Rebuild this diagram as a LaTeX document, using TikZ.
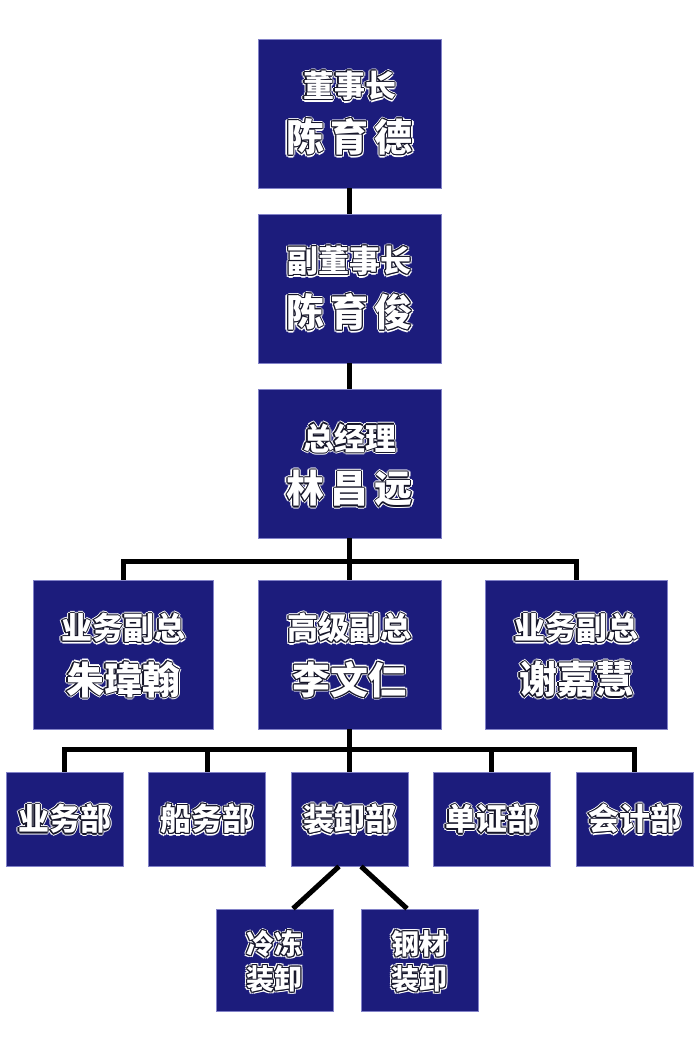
\documentclass[tikz,border=0pt]{standalone}
\usepackage{fontspec}
\setmainfont{Noto Sans CJK SC}
\definecolor{boxnavy}{RGB}{28,28,124}
\definecolor{boxedge}{RGB}{130,130,200}
\definecolor{rim}{RGB}{20,20,40}
\newcommand\shf[3]{\rlap{\hspace*{#1}\raisebox{#2}{#3}}}
\newcommand\outl[1]{%
  \textcolor{white}{\shf{2.3pt}{0pt}{#1}\shf{-2.3pt}{0pt}{#1}\shf{0pt}{2.3pt}{#1}\shf{0pt}{-2.3pt}{#1}\shf{1.6pt}{1.6pt}{#1}\shf{-1.6pt}{1.6pt}{#1}\shf{1.6pt}{-1.6pt}{#1}\shf{-1.6pt}{-1.6pt}{#1}}%
  \textcolor{rim}{\shf{1.1pt}{0pt}{#1}\shf{-1.1pt}{0pt}{#1}\shf{0pt}{1.1pt}{#1}\shf{0pt}{-1.1pt}{#1}\shf{0.8pt}{0.8pt}{#1}\shf{-0.8pt}{0.8pt}{#1}\shf{0.8pt}{-0.8pt}{#1}\shf{-0.8pt}{-0.8pt}{#1}}%
  \textcolor{white}{#1}}
\tikzset{
  orgbox/.style={draw=boxedge, line width=0.8pt, fill=boxnavy, inner sep=0pt, minimum width=#1},
  bigbox/.style={orgbox=183pt, minimum height=149pt},
  deptbox/.style={orgbox=117pt, minimum height=94pt},
  subbox/.style={orgbox=117pt, minimum height=102pt},
  ttl/.style={inner sep=0pt, font=\bfseries\fontsize{31}{31}\selectfont},
  nam/.style={inner sep=0pt, font=\bfseries\fontsize{38}{38}\selectfont},
  dep/.style={inner sep=0pt, font=\bfseries\fontsize{31}{31}\selectfont},
  sub/.style={inner sep=0pt, font=\bfseries\fontsize{28}{28}\selectfont},
  conn/.style={line width=5pt, black},
}
\begin{document}
\begin{tikzpicture}[x=1pt,y=-1pt]
\useasboundingbox (0,0) rectangle (700,1050);
% top chain
\node[bigbox] (b1) at (349.5,113.5) {};
\node[bigbox] (b2) at (349.5,288.5) {};
\node[bigbox] (b3) at (349.5,463.5) {};
% second row
\node[orgbox=180pt, minimum height=149pt] (l2) at (123,654.5) {};
\node[bigbox] (m2) at (349.5,654.5) {};
\node[orgbox=182pt, minimum height=149pt] (r2) at (576,654.5) {};
% departments
\node[deptbox] (d1) at (64.5,819) {};
\node[deptbox] (d2) at (207,819) {};
\node[deptbox] (d3) at (349.5,819) {};
\node[deptbox] (d4) at (491.5,819) {};
\node[deptbox] (d5) at (634.5,819) {};
% sub units
\node[subbox] (e1) at (274.5,960) {};
\node[subbox] (e2) at (419.5,960) {};
% texts
\node[ttl] (b1t) at ([yshift=27.5pt]b1.center) {\outl{董事长}};
\node[nam] (b1n) at ([yshift=-23.5pt]b1.center) {\outl{陈\,育\,德}};
\node[ttl] (b2t) at ([yshift=27.5pt]b2.center) {\outl{副董事长}};
\node[nam] (b2n) at ([yshift=-23.5pt]b2.center) {\outl{陈\,育\,俊}};
\node[ttl] (b3t) at ([yshift=25.5pt]b3.center) {\outl{总经理}};
\node[nam] (b3n) at ([yshift=-25pt]b3.center) {\outl{林\,昌\,远}};
\node[ttl] (l2t) at ([yshift=26.5pt]l2.center) {\outl{业务副总}};
\node[nam] (l2n) at ([yshift=-25pt]l2.center) {\outl{朱瑋翰}};
\node[ttl] (m2t) at ([yshift=26.5pt]m2.center) {\outl{高级副总}};
\node[nam] (m2n) at ([yshift=-25pt]m2.center) {\outl{李文仁}};
\node[ttl] (r2t) at ([yshift=26.5pt]r2.center) {\outl{业务副总}};
\node[nam] (r2n) at ([yshift=-25pt]r2.center) {\outl{谢嘉慧}};
\node[dep] (d1t) at (d1.center) {\outl{业务部}};
\node[dep] (d2t) at (d2.center) {\outl{船务部}};
\node[dep] (d3t) at (d3.center) {\outl{装卸部}};
\node[dep] (d4t) at (d4.center) {\outl{单证部}};
\node[dep] (d5t) at (d5.center) {\outl{会计部}};
\node[sub] (e1a) at ([yshift=16pt]e1.center) {\outl{冷冻}};
\node[sub] (e1b) at ([yshift=-19pt]e1.center) {\outl{装卸}};
\node[sub] (e2a) at ([yshift=16pt]e2.center) {\outl{钢材}};
\node[sub] (e2b) at ([yshift=-19pt]e2.center) {\outl{装卸}};
% connectors
\coordinate (j2) at (349.5,561);
\coordinate (j3) at (349.5,749);
\draw[conn] (b1.south) -- (b2.north);
\draw[conn] (b2.south) -- (b3.north);
\draw[conn] (b3.south) -- (m2.north);
\draw[conn] (l2.north) -- (l2.north |- j2) -- (r2.north |- j2) -- (r2.north);
\draw[conn] (m2.south) -- (j3);
\draw[conn] (d1.north) -- (d1.north |- j3) -- (d5.north |- j3) -- (d5.north);
\draw[conn] (d2.north) -- (d2.north |- j3);
\draw[conn] (d3.north) -- (d3.north |- j3);
\draw[conn] (d4.north) -- (d4.north |- j3);
\draw[conn] ([xshift=-10.5pt]d3.south) -- ([xshift=18.5pt]e1.north);
\draw[conn] ([xshift=11.5pt]d3.south) -- ([xshift=-12.5pt]e2.north);
\end{tikzpicture}
\end{document}
